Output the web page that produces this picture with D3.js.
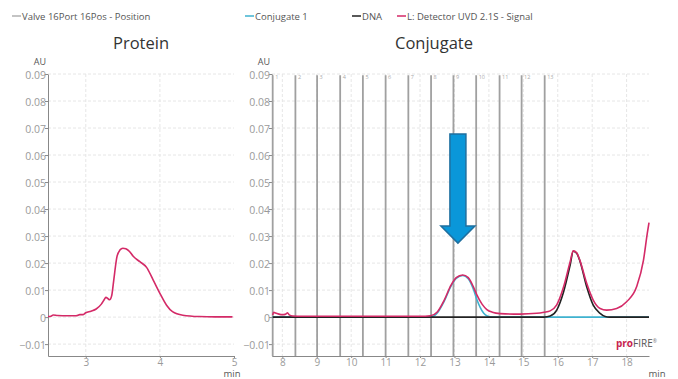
<!DOCTYPE html>
<html><head><meta charset="utf-8">
<script src="https://cdn.jsdelivr.net/npm/d3@7"></script>
<style>
body{margin:0;background:#fff;}
svg{display:block;font-family:"Open Sans","DejaVu Sans",sans-serif;}
</style></head>
<body><svg id="c" width="678" height="379"></svg>
<script>
// ---------- data ----------
const legendItems = ["Valve 16Port 16Pos - Position","Conjugate 1","DNA","L: Detector UVD 2.1S - Signal"];
const legendColors = ["#b0b0b0","#3fb2cf","#222222","#d42a67"];
const yTicks = [-0.01,0,0.01,0.02,0.03,0.04,0.05,0.06,0.07,0.08,0.09];
const proteinTicks = [3,4,5];
const conjTicks = [8,9,10,11,12,13,14,15,16,17,18];

// Protein panel: detector signal
const proteinT = [2.49,2.53,2.56,2.62,2.75,2.87,2.92,2.96,3.0,3.07,3.14,3.21,3.25,3.27,3.30,3.32,3.35,3.37,3.39,3.42,3.46,3.50,3.54,3.59,3.64,3.73,3.82,3.91,4.0,4.09,4.17,4.31,4.53,4.75,4.98];
const proteinV = [0.0002,0.0003,0.0008,0.0006,0.0005,0.0005,0.0009,0.0009,0.0016,0.0022,0.0030,0.0048,0.0065,0.0073,0.0068,0.0064,0.0080,0.0120,0.0165,0.0223,0.0248,0.0255,0.0253,0.0243,0.0225,0.0205,0.0184,0.0137,0.0088,0.0044,0.0020,0.0007,0.0002,0.0001,0.0001];

// Conjugate panel: detector signal
const signalT = [7.72,7.75,7.8,7.9,8.0,8.1,8.15,8.2,8.3,8.6,10,12.0,12.3,12.5,12.7,12.9,13.05,13.24,13.4,13.55,13.65,13.8,13.94,14.1,14.33,14.9,15.39,15.6,15.78,15.97,16.17,16.36,16.45,16.55,16.64,16.84,17.03,17.23,17.42,17.71,18.0,18.29,18.49,18.6,18.65];
const signalV = [0.0008,0.0018,0.0015,0.0011,0.0009,0.0011,0.0016,0.0008,0.0004,0.0003,0.0003,0.0003,0.0005,0.0019,0.0062,0.0118,0.0146,0.0156,0.0146,0.0112,0.0082,0.0048,0.0028,0.0018,0.0013,0.0011,0.0014,0.0018,0.0023,0.0045,0.0112,0.0205,0.0245,0.0238,0.0211,0.0125,0.0063,0.0032,0.0026,0.0032,0.0057,0.0112,0.0211,0.0310,0.0350];

// Conjugate 1 fraction trace
const conjT = [7.72,12.3,12.5,12.7,12.9,13.05,13.24,13.4,13.55,13.65,13.75,13.85,13.95,14.1,18.65];
const conjV = [0,0,0.0015,0.0058,0.0115,0.0143,0.0154,0.0142,0.0103,0.0065,0.0035,0.0014,0.0004,0,0];

// DNA trace
const dnaT = [7.72,15.6,15.78,15.97,16.17,16.36,16.45,16.55,16.64,16.84,17.03,17.23,17.38,17.5,18.65];
const dnaV = [0,0,0.0004,0.0026,0.0094,0.0193,0.0244,0.0236,0.0209,0.0112,0.0044,0.0014,0.0002,0,0];

// fraction collector positions
const fracLabels = ["1","2","3","4","5","6","7","8","9","10","11","12","13"];
const fracT = [7.72,8.38,9.01,9.68,10.34,11.0,11.66,12.32,12.97,13.63,14.31,14.95,15.62];

// ---------- drawing ----------
const svg = d3.select("#c");
const grey = "#9a9a9a";

// legend
const legX = [12,245,352,397];
legendItems.forEach((t,i)=>{
  const g = svg.append("g").attr("transform",`translate(${legX[i]},16)`);
  g.append("line").attr("x1",0).attr("x2",9).attr("y1",0).attr("y2",0).attr("stroke",legendColors[i]).attr("stroke-width",1.5);
  g.append("text").attr("x",10).attr("y",3.5).attr("font-size",9.5).attr("fill","#555").text(t);
});

const y = d3.scaleLinear().domain([-0.0144,0.09]).range([356,74]);
const fmt = d => d===0 ? "0" : d3.format(".2f")(d);

function panel(x0,x1,domain,xticks,title,titleX,minX){
  const x = d3.scaleLinear().domain(domain).range([x0,x1]);
  const g = svg.append("g");
  // grid
  g.selectAll(".hg").data(yTicks).join("line")
    .attr("x1",x0).attr("x2",x1).attr("y1",d=>y(d)).attr("y2",d=>y(d))
    .attr("stroke","#e6e6e6").attr("stroke-dasharray","3,2");
  g.selectAll(".vg").data(xticks.filter(d=>d<domain[1]-0.01)).join("line")
    .attr("x1",d=>x(d)).attr("x2",d=>x(d)).attr("y1",y(0.09)).attr("y2",356)
    .attr("stroke","#e6e6e6").attr("stroke-dasharray","3,2");
  // axes
  const ya = svg.append("g").attr("transform",`translate(${x0},0)`)
    .call(d3.axisLeft(y).tickValues(yTicks).tickFormat(fmt).tickSize(3).tickSizeOuter(0));
  const xa = svg.append("g").attr("transform",`translate(0,356)`)
    .call(d3.axisBottom(x).tickValues(xticks).tickFormat(d3.format("d")).tickSize(2).tickPadding(1).tickSizeOuter(0));
  [ya,xa].forEach(a=>{
    a.select(".domain").attr("stroke","#888");
    a.selectAll(".tick line").attr("stroke","#888");
    a.selectAll("text").attr("fill",grey).attr("font-size",10).attr("font-family","Open Sans, sans-serif");
  });
  xa.selectAll("text").attr("dy","0.71em");
  ya.selectAll("text").attr("x",-2).attr("dy","0.4em").attr("font-size",10.5);
  svg.append("text").attr("x",x0-8).attr("y",65).attr("text-anchor","middle").attr("font-size",9).attr("fill","#555").text("AU");
  svg.append("text").attr("x",minX).attr("y",377).attr("text-anchor","middle").attr("font-size",9.5).attr("fill","#555").text("min");
  svg.append("text").attr("x",titleX).attr("y",49).attr("text-anchor","middle").attr("font-size",16.5).attr("fill","#333").text(title);
  return x;
}

const line = (x,T,V) => d3.line().x((d,i)=>x(T[i])).y(d=>y(d)).curve(d3.curveMonotoneX)(V);

// Protein panel
const xp = panel(48,234,[2.49,5],proteinTicks,"Protein",141,232);
svg.append("path").attr("d",line(xp,proteinT,proteinV)).attr("fill","none").attr("stroke",legendColors[3]).attr("stroke-width",1.6);

// Conjugate panel
const xc = panel(272,649,[7.7,18.65],conjTicks,"Conjugate",434,657);
// fraction lines
svg.selectAll(".fr").data(fracT).join("line")
  .attr("x1",d=>xc(d)).attr("x2",d=>xc(d)).attr("y1",y(0.0895)).attr("y2",356)
  .attr("stroke","#a0a0a0").attr("stroke-width",1.8);
svg.selectAll(".fl").data(fracT).join("text")
  .attr("x",d=>xc(d)+2.5).attr("y",y(0.0893)+3).attr("font-size",5.5).attr("fill","#aaa")
  .text((d,i)=>fracLabels[i]);

svg.append("path").attr("d",line(xc,conjT,conjV)).attr("fill","none").attr("stroke",legendColors[1]).attr("stroke-width",1.6);
svg.append("path").attr("d",line(xc,dnaT,dnaV)).attr("fill","none").attr("stroke",legendColors[2]).attr("stroke-width",1.6);
svg.append("path").attr("d",line(xc,signalT,signalV)).attr("fill","none").attr("stroke",legendColors[3]).attr("stroke-width",1.6);

// arrow annotation
const ax = xc(13.1), aTop = y(0.0678), aHead = y(0.0337), aTip = y(0.0274);
svg.append("path")
  .attr("d",`M${ax-8},${aTop}L${ax+8},${aTop}L${ax+8},${aHead}L${ax+17},${aHead}L${ax},${aTip}L${ax-17},${aHead}L${ax-8},${aHead}Z`)
  .attr("fill","#0a97d9").attr("stroke","#1f6f9f").attr("stroke-width",1.5);

// logo
const logo = svg.append("text").attr("x",616).attr("y",347).attr("font-size",10);
logo.append("tspan").attr("fill","#c8234f").attr("font-weight","bold").text("pro");
logo.append("tspan").attr("fill","#555").text("FIRE");
logo.append("tspan").attr("fill","#777").attr("font-size",5).attr("dy",-4).text("®");
</script></body></html>
